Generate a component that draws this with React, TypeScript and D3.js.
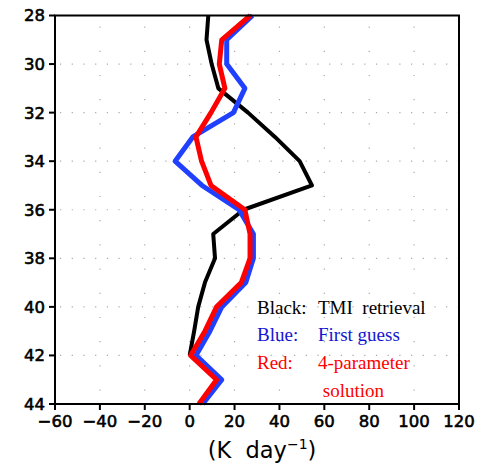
import { useMemo } from "react";
import * as d3 from "d3";

// depth levels (y axis) and heating rates (K/day)
const levels = [28, 29, 30, 31, 32, 33, 34, 35, 36, 37, 38, 39, 40, 41, 42, 43, 44];
const blackLevels = [28, 29, 30, 31, 32, 33, 34, 35, 36, 37, 38, 39, 40, 41, 42];
const tmiRetrieval = [8.3, 7.5, 9.8, 12.8, 26, 38, 49, 54.5, 24, 10.5, 11.3, 6.8, 3.8, 2, 0];
const firstGuess = [28, 16.5, 16.5, 24.6, 19.5, 1.4, -6.5, 5.5, 22, 28.4, 28.4, 25, 14.3, 9, 2.8, 14.3, 5.8];
const fourParam = [27, 14.3, 13.2, 15.7, 9.5, 2.8, 5.3, 9.5, 24.6, 26.9, 26.9, 23, 12, 6.8, 0.4, 12, 4.1];

const xTicks = [-60, -40, -20, 0, 20, 40, 60, 80, 100, 120];
const yTicks = [28, 30, 32, 34, 36, 38, 40, 42, 44];

const legendRows = [
  { key: "Black:", text: "TMI  retrieval", color: "#000000" },
  { key: "Blue:", text: "First guess", color: "#1414d2" },
  { key: "Red:", text: "4-parameter", color: "#ff0000" },
  { key: "", text: " solution", color: "#ff0000" },
];

const W = 496;
const H = 469;
const margin = { top: 15.5, right: 37, bottom: 65, left: 55 };
const SERIF = "Liberation Serif, Times New Roman, DejaVu Serif, serif";

export default function App() {
  const iw = W - margin.left - margin.right;
  const ih = H - margin.top - margin.bottom;

  const x = useMemo(() => d3.scaleLinear().domain([-60, 120]).range([0, iw]), [iw]);
  const y = useMemo(() => d3.scaleLinear().domain([28, 44]).range([0, ih]), [ih]);

  const line = d3
    .line<[number, number]>()
    .x((d) => x(d[0]))
    .y((d) => y(d[1]));

  const blackPath = line(tmiRetrieval.map((v, i) => [v, blackLevels[i]]));
  const bluePath = line(firstGuess.map((v, i) => [v, levels[i]]));
  const redPath = line(fourParam.map((v, i) => [v, levels[i]]));

  const tickFont = { fontFamily: "DejaVu Sans", fontSize: 16.5, fill: "#000", stroke: "#000", strokeWidth: 0.6 };
  const fmt = (v: number) => (v < 0 ? "\u2212" + Math.abs(v) : String(v));

  return (
    <svg width={W} height={H} style={{ position: "absolute", left: 0, top: 0, background: "#fff" }}>
      <g transform={`translate(${margin.left},${margin.top})`}>
        {/* dotted grid */}
        {xTicks.slice(1, -1).map((t) => (
          <line key={"gx" + t} x1={x(t)} x2={x(t)} y1={0} y2={ih} stroke="#aaa" strokeWidth={1.2} strokeDasharray="1.2 23" strokeDashoffset={-11} />
        ))}
        {yTicks.slice(1, -1).map((t) => (
          <line key={"gy" + t} x1={0} x2={iw} y1={y(t)} y2={y(t)} stroke="#aaa" strokeWidth={1.2} strokeDasharray="1.2 10.5" strokeDashoffset={-5} />
        ))}

        <path d={blackPath ?? ""} fill="none" stroke="#000" strokeWidth={4} strokeLinejoin="round" />
        <path d={bluePath ?? ""} fill="none" stroke="#2040ff" strokeWidth={5} strokeLinejoin="round" />
        <path d={redPath ?? ""} fill="none" stroke="#ff0000" strokeWidth={5} strokeLinejoin="round" />

        {/* frame */}
        <rect x={0} y={0} width={iw} height={ih} fill="none" stroke="#000" strokeWidth={2} />

        {/* y axis */}
        {yTicks.map((t) => (
          <g key={"y" + t} transform={`translate(0,${y(t)})`}>
            <line x1={-6} x2={0} stroke="#000" strokeWidth={2} />
            <text x={-10} dy="0.36em" textAnchor="end" {...tickFont}>
              {t}
            </text>
          </g>
        ))}

        {/* x axis */}
        {xTicks.map((t) => (
          <g key={"x" + t} transform={`translate(${x(t)},${ih})`}>
            <line y1={0} y2={6} stroke="#000" strokeWidth={2} />
            <text y={23} textAnchor="middle" {...tickFont}>
              {fmt(t)}
            </text>
          </g>
        ))}
        <text x={iw / 2 + 5} y={ih + 54} textAnchor="middle" fontFamily="DejaVu Sans" fontSize={22.5} style={{ whiteSpace: "pre" }}>
          {"(K  day"}
          <tspan fontSize={14} dy={-9}>
            {"\u22121"}
          </tspan>
          <tspan dy={9}>)</tspan>
        </text>

        {/* legend text */}
        {legendRows.map((r, i) => (
          <g key={"lg" + i} fill={r.color}>
            <text x={202} y={298 + i * 27.7} fontFamily={SERIF} fontSize={19}>
              {r.key}
            </text>
            <text x={263} y={298 + i * 27.7} fontFamily={SERIF} fontSize={19} style={{ whiteSpace: "pre" }}>
              {r.text}
            </text>
          </g>
        ))}
      </g>
    </svg>
  );
}
